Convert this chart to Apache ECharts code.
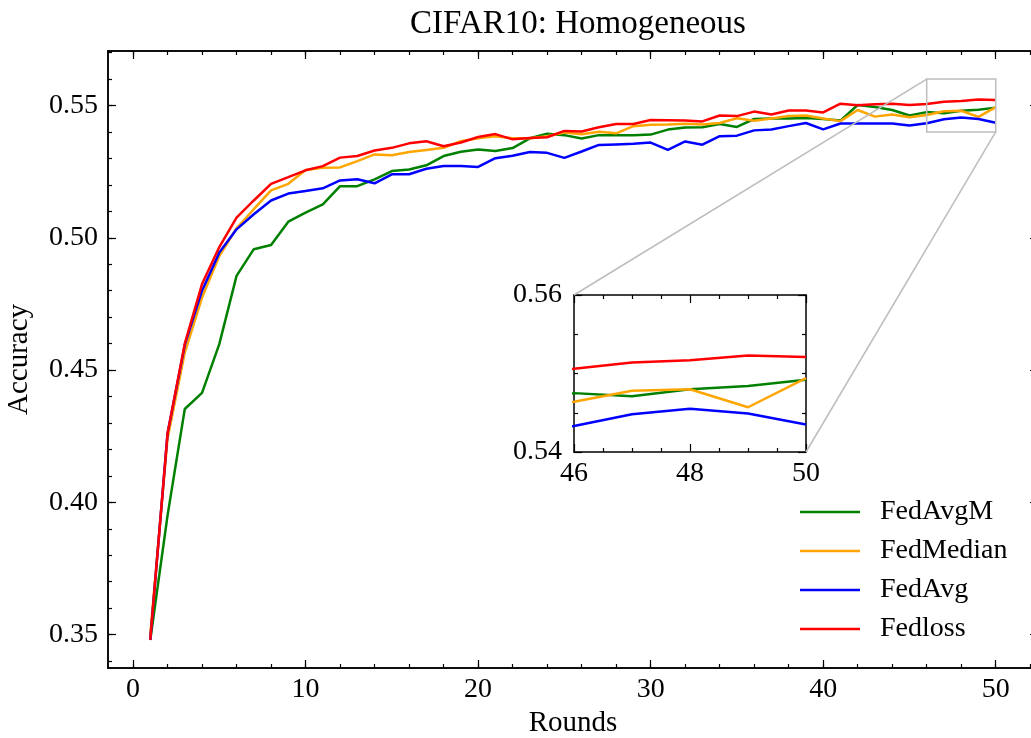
<!DOCTYPE html>
<html><head><meta charset="utf-8">
<script src="https://cdn.jsdelivr.net/npm/echarts@6/dist/echarts.min.js"></script>
<style>html,body{margin:0;padding:0;background:#fff}#c{width:1031px;height:738px}</style>
</head><body><div id="c"></div><script>
const rounds=[1,2,3,4,5,6,7,8,9,10,11,12,13,14,15,16,17,18,19,20,21,22,23,24,25,26,27,28,29,30,31,32,33,34,35,36,37,38,39,40,41,42,43,44,45,46,47,48,49,50];
const fedAvgM=[0.348,0.395,0.4353,0.4414,0.4598,0.4856,0.4957,0.4973,0.5061,0.5095,0.5126,0.5195,0.5195,0.5221,0.5252,0.5258,0.5274,0.5309,0.5325,0.5334,0.5328,0.5339,0.5376,0.5393,0.5388,0.5375,0.5388,0.5388,0.5388,0.5390,0.5409,0.5417,0.5418,0.5430,0.5419,0.5449,0.5451,0.5451,0.5453,0.5449,0.5443,0.5502,0.5494,0.5483,0.5462,0.5475,0.5471,0.5480,0.5484,0.5492];
const fedMedian=[0.350,0.424,0.4566,0.4774,0.4931,0.5036,0.5108,0.5179,0.5204,0.5256,0.5265,0.5266,0.5290,0.5315,0.5312,0.5324,0.5332,0.5340,0.5365,0.5376,0.5384,0.5376,0.5376,0.5384,0.5398,0.5391,0.5401,0.5395,0.5422,0.5427,0.5428,0.5431,0.5428,0.5434,0.5452,0.5442,0.5451,0.5460,0.5462,0.5451,0.5441,0.5483,0.5458,0.5466,0.5456,0.5464,0.5478,0.5480,0.5457,0.5494];
const fedAvg=[0.348,0.426,0.4595,0.480,0.4944,0.5032,0.5089,0.5141,0.5167,0.5177,0.5187,0.5217,0.5221,0.5206,0.5240,0.5240,0.5261,0.5271,0.5271,0.5268,0.5301,0.5310,0.5324,0.5321,0.5302,0.5326,0.5351,0.5353,0.5355,0.5360,0.5332,0.5364,0.5352,0.5384,0.5386,0.5406,0.5409,0.5422,0.5434,0.5410,0.5432,0.5432,0.5432,0.5432,0.5424,0.5433,0.5448,0.5455,0.5449,0.5435];
const fedLoss=[0.348,0.426,0.460,0.4825,0.4965,0.5076,0.5141,0.5204,0.5229,0.5255,0.5271,0.5303,0.5309,0.5330,0.5340,0.5357,0.5365,0.5346,0.5360,0.5381,0.5392,0.5372,0.5377,0.5380,0.5404,0.5402,0.5418,0.5430,0.5430,0.5445,0.5444,0.5443,0.5440,0.5462,0.5460,0.5477,0.5466,0.5481,0.5481,0.5474,0.5507,0.5501,0.5505,0.5507,0.5502,0.5506,0.5514,0.5517,0.5523,0.5521];
const seriesNames=['FedAvgM','FedMedian','FedAvg','Fedloss'];
const seriesColors=['#008000','#FFA500','#0000FF','#FF0000'];
const xMajor=[0,10,20,30,40,50];
const xMinor=[0,2,4,6,8,10,12,14,16,18,20,22,24,26,28,30,32,34,36,38,40,42,44,46,48,50,52];
const yMajor=[0.35,0.40,0.45,0.50,0.55];
const yMinor=[0.34,0.35,0.36,0.37,0.38,0.39,0.40,0.41,0.42,0.43,0.44,0.45,0.46,0.47,0.48,0.49,0.50,0.51,0.52,0.53,0.54,0.55,0.56,0.57];
const insetX=[46,50];
const insetY=[0.54,0.56];

const FONT='Liberation Serif';
const values=[fedAvgM,fedMedian,fedAvg,fedLoss];
const xRange=[-1.45,52.45], yRange=[0.3374,0.5706];

function mkAxis(grid,pos,range,vals,len,labelOpt,extra){
  const a={type:'value',gridIndex:grid,position:pos,min:range[0],max:range[1],
    axisLine:{show:true,onZero:false,lineStyle:{color:'#000',width:1.5}},
    axisTick:{show:true,inside:true,length:len,customValues:vals,lineStyle:{color:'#000',width:1.2}},
    axisLabel:labelOpt?Object.assign({show:true,customValues:vals,color:'#000',fontFamily:FONT,fontSize:28},labelOpt):{show:false},
    splitLine:{show:false}};
  return Object.assign(a,extra||{});
}
function insetAxis(grid,pos,range,interval,labelOpt){
  return {type:'value',gridIndex:grid,position:pos,min:range[0],max:range[1],interval:interval,
    axisLine:{show:true,onZero:false,lineStyle:{color:'#000',width:1.5}},
    axisTick:{show:true,inside:true,length:8,lineStyle:{color:'#000',width:1.2}},
    minorTick:{show:true,splitNumber:4,length:4,lineStyle:{color:'#000',width:1.2}},
    axisLabel:labelOpt?Object.assign({show:true,color:'#000',fontFamily:FONT,fontSize:28},labelOpt):{show:false},
    splitLine:{show:false}};
}

const xAxes=[
  mkAxis(0,'bottom',xRange,xMajor,8,{margin:8,formatter:v=>String(Math.round(v))},{name:'Rounds',nameLocation:'middle',nameGap:40,nameTextStyle:{color:'#000',fontFamily:FONT,fontSize:29}}),
  mkAxis(0,'bottom',xRange,xMinor,4,null),
  mkAxis(0,'top',xRange,xMajor,8,null),
  mkAxis(0,'top',xRange,xMinor,4,null),
  insetAxis(1,'bottom',insetX,2,{margin:8,formatter:v=>String(Math.round(v))}),
  insetAxis(1,'top',insetX,2,null)
];
const yAxes=[
  mkAxis(0,'left',yRange,yMajor,8,{margin:10,formatter:v=>v.toFixed(2)},{name:'Accuracy',nameLocation:'middle',nameRotate:90,nameGap:74,nameTextStyle:{color:'#000',fontFamily:FONT,fontSize:29}}),
  mkAxis(0,'left',yRange,yMinor,4,null),
  mkAxis(0,'right',yRange,yMajor,8,null),
  mkAxis(0,'right',yRange,yMinor,4,null),
  insetAxis(1,'left',insetY,0.02,{margin:12,formatter:v=>v.toFixed(2)}),
  insetAxis(1,'right',insetY,0.02,null)
];

const series=[];
values.forEach((vals,i)=>{
  series.push({name:seriesNames[i],type:'line',xAxisIndex:0,yAxisIndex:0,showSymbol:false,symbol:'none',
    data:rounds.map((r,k)=>[r,vals[k]]),lineStyle:{color:seriesColors[i],width:2.5},itemStyle:{color:seriesColors[i]},z:2+i,animation:false});
});
values.forEach((vals,i)=>{
  series.push({name:seriesNames[i],type:'line',xAxisIndex:4,yAxisIndex:4,showSymbol:false,symbol:'none',clip:true,
    data:rounds.map((r,k)=>[r,vals[k]]),lineStyle:{color:seriesColors[i],width:2.5},itemStyle:{color:seriesColors[i]},z:2+i,animation:false});
});

const chart=echarts.init(document.getElementById('c'),null,{renderer:'canvas'});
chart.setOption({
  animation:false,
  backgroundColor:'#fff',
  title:{text:'CIFAR10: Homogeneous',left:573,textAlign:'center',top:3,textStyle:{fontFamily:FONT,fontSize:33,fontWeight:'normal',color:'#000'}},
  grid:[{left:108,top:51,width:930,height:617,outerBoundsMode:'none',containLabel:false},
        {left:574,top:295,width:232,height:157,outerBoundsMode:'none',containLabel:false}],
  xAxis:xAxes,yAxis:yAxes,
  legend:{data:seriesNames,orient:'vertical',left:800,top:497,padding:0,icon:'rect',itemWidth:60,itemHeight:2.5,itemGap:9,
    textStyle:{fontFamily:FONT,fontSize:28,color:'#000',lineHeight:30,padding:[0,0,0,15]}},
  series:series
});
const p1=chart.convertToPixel({xAxisIndex:0,yAxisIndex:0},[insetX[0],insetY[1]]);
const p2=chart.convertToPixel({xAxisIndex:0,yAxisIndex:0},[insetX[1],insetY[0]]);
const q1=chart.convertToPixel({xAxisIndex:4,yAxisIndex:4},[insetX[0],insetY[1]]);
const q2=chart.convertToPixel({xAxisIndex:4,yAxisIndex:4},[insetX[1],insetY[0]]);
const gs={stroke:'#bdbdbd',lineWidth:1.5};
chart.setOption({graphic:[
  {type:'rect',shape:{x:p1[0],y:p1[1],width:p2[0]-p1[0],height:p2[1]-p1[1]},style:Object.assign({fill:'none'},gs),z:10,silent:true},
  {type:'line',shape:{x1:p1[0],y1:p1[1],x2:q1[0],y2:q1[1]},style:gs,z:10,silent:true},
  {type:'line',shape:{x1:p2[0],y1:p2[1],x2:q2[0],y2:q2[1]},style:gs,z:10,silent:true}
]});
</script></body></html>
